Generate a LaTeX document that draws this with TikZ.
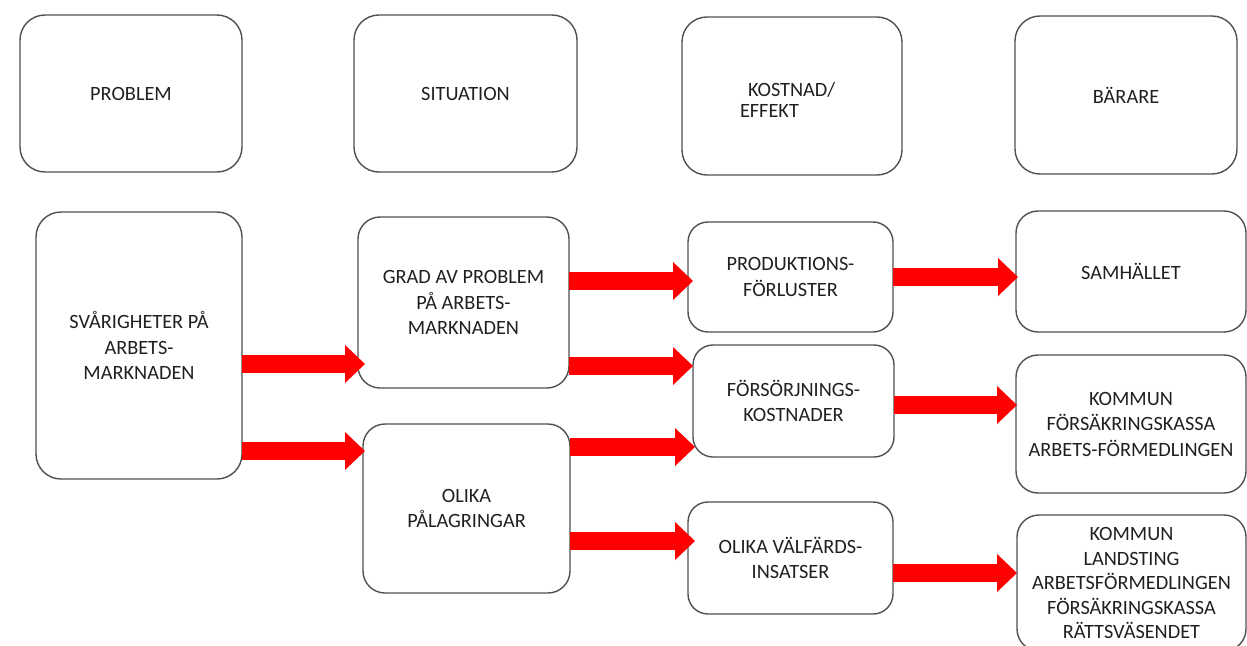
\documentclass[tikz,border=0pt]{standalone}
\usepackage{fontspec}
\setmainfont{Carlito}
\usetikzlibrary{arrows.meta}
\definecolor{boxgray}{HTML}{505050}
\definecolor{txt}{HTML}{202020}
\definecolor{arr}{HTML}{FF0000}
\begin{document}
\begin{tikzpicture}[x=1pt,y=-1pt,
  box/.style={draw=boxgray, line width=1.4pt, rounded corners=22pt, align=center,
    text=txt, font=\fontsize{20.3}{25.5}\selectfont, inner sep=0pt, outer sep=0pt},
  lbl/.style={text=txt, font=\fontsize{20.3}{25.5}\selectfont, inner sep=0pt, outer sep=0pt},
  fat/.style={draw=arr, line width=18.5pt,
    -{Triangle[length=20pt,width=38pt,line width=0pt]}}]
\useasboundingbox (0,0) rectangle (1247,645);
% header row
\node[box, minimum width=222pt, minimum height=157pt, rounded corners=25pt] (prob) at (131,93.5) {PROBLEM};
\node[box, minimum width=223pt, minimum height=157pt, rounded corners=25pt] (sit) at (465.5,93.5) {SITUATION};
\node[box, minimum width=220pt, minimum height=158pt, rounded corners=25pt] (kost) at (792,96) {};
\node[lbl, anchor=base west] (kostA) at (748,96) {KOSTNAD/};
\node[lbl, anchor=base west] (kostB) at (740,117) {EFFEKT};
\node[box, minimum width=222pt, minimum height=158pt, rounded corners=25pt] (bar) at (1126,95) {BÄRARE};
% column 1
\node[box, minimum width=206pt, minimum height=267pt, rounded corners=25pt] (svar) at (139,345.5) {SVÅRIGHETER PÅ\\ARBETS-\\MARKNADEN};
% column 2
\node[box, minimum width=211pt, minimum height=171pt] (grad) at (463.5,302.5) {GRAD AV PROBLEM\\PÅ ARBETS-\\MARKNADEN};
\node[box, minimum width=207pt, minimum height=169pt] (olika) at (466.5,508.5) {OLIKA\\PÅLAGRINGAR};
% column 3
\node[box, minimum width=205pt, minimum height=110pt, rounded corners=20pt] (prod) at (790.5,277) {PRODUKTIONS-\\FÖRLUSTER};
\node[box, minimum width=201pt, minimum height=112pt, rounded corners=20pt] (fors) at (793.5,401) {FÖRSÖRJNINGS-\\KOSTNADER};
\node[box, minimum width=205pt, minimum height=112pt, rounded corners=20pt] (valf) at (790.5,558) {OLIKA VÄLFÄRDS-\\INSATSER};
% column 4
\node[box, minimum width=230pt, minimum height=121pt] (samh) at (1131,271.5) {SAMHÄLLET};
\node[box, minimum width=230pt, minimum height=138pt] (kom1) at (1131,424) {KOMMUN\\FÖRSÄKRINGSKASSA\\ARBETS-FÖRMEDLINGEN};
\node[box, minimum width=229pt, minimum height=136pt, font=\fontsize{20.3}{24.5}\selectfont] (kom2) at (1131.5,583) {KOMMUN\\LANDSTING\\ARBETSFÖRMEDLINGEN\\FÖRSÄKRINGSKASSA\\RÄTTSVÄSENDET};
% arrow levels
\coordinate (y1) at (0,364);
\coordinate (y2) at (0,451);
\coordinate (y3) at (0,281);
\coordinate (y4) at (0,366);
\coordinate (y5) at (0,447);
\coordinate (y6) at (0,541);
\coordinate (y7) at (0,277);
\coordinate (y8) at (0,405);
\coordinate (y9) at (0,573);
% arrows
\draw[fat, shorten >=-7pt] (svar.east |- y1) -- (grad.west |- y1);
\draw[fat, shorten >=-2pt] (svar.east |- y2) -- (olika.west |- y2);
\draw[fat, shorten >=-5pt] (grad.east |- y3) -- (prod.west |- y3);
\draw[fat] (grad.east |- y4) -- (fors.west |- y4);
\draw[fat, shorten >=-2pt] (olika.east |- y5) -- (fors.west |- y5);
\draw[fat, shorten >=-7pt] (olika.east |- y6) -- (valf.west |- y6);
\draw[fat, shorten >=-2pt] (prod.east |- y7) -- (samh.west |- y7);
\draw[fat, shorten >=-1pt] (fors.east |- y8) -- (kom1.west |- y8);
\draw[fat] (valf.east |- y9) -- (kom2.west |- y9);
\end{tikzpicture}
\end{document}
